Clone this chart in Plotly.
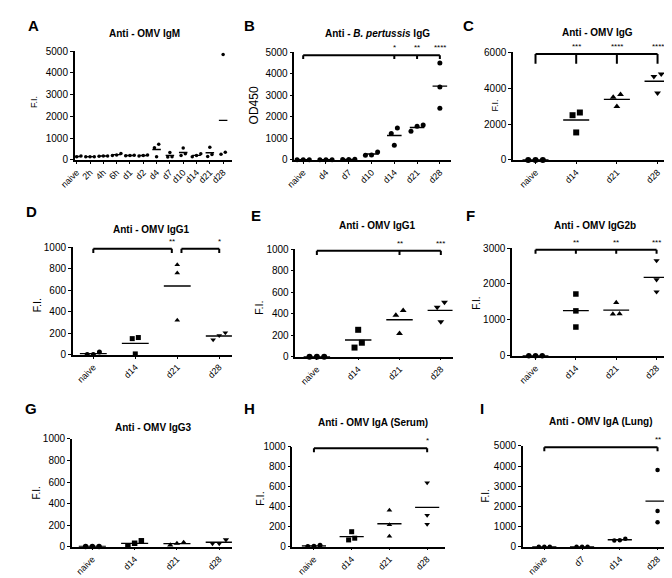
import plotly.graph_objects as go
import numpy as np

W, H = 672, 578

# ---------------- data ----------------
A_cats = ["naive", "2h", "4h", "6h", "d1", "d2", "d4", "d7", "d10", "d14", "d21", "d28"]
A_vals = [[180, 130, 150], [150, 150, 150], [180, 170, 180], [230, 300, 200],
          [210, 200, 190], [220, 200, 180], [720, 560, 150], [340, 150, 130],
          [550, 280, 200], [280, 200, 150], [580, 250, 160], [4850, 350, 260]]

B_cats = ["naive", "d4", "d7", "d10", "d14", "d21", "d28"]
B_vals = [[5, 5, 5], [5, 5, 5], [25, 20, 20], [370, 230, 220],
          [1480, 1230, 680], [1620, 1560, 1330], [4500, 3380, 2400]]

C_cats = ["naive", "d14", "d21", "d28"]
C_vals = [[0, 0, 0], [2640, 2490, 1530], [3640, 3490, 2980], [4780, 4640, 3730]]

D_cats = ["naive", "d14", "d21", "d28"]
D_vals = [[25, 3, 3], [160, 150, 8], [836, 760, 321], [205, 180, 140]]

E_cats = ["naive", "d14", "d21", "d28"]
E_vals = [[0, 0, 0], [250, 130, 85], [430, 385, 215], [505, 460, 325]]

F_cats = ["naive", "d14", "d21", "d28"]
F_vals = [[0, 0, 0], [1720, 1250, 800], [1480, 1170, 1160], [2650, 2120, 1780]]

G_cats = ["naive", "d14", "d21", "d28"]
G_vals = [[3, 3, 3], [55, 5, 32], [40, 15, 30], [65, 30, 30]]

H_cats = ["naive", "d14", "d21", "d28"]
H_vals = [[15, 3, 5], [150, 68, 85], [365, 220, 105], [640, 315, 225]]

I_cats = ["naive", "d7", "d14", "d28"]
I_vals = [[0, 0, 0], [0, 0, 0], [400, 320, 310], [3800, 1770, 1210]]

# significance brackets: (x_start, x_end, y, drop, tick positions, {x: label})
B_sig = [(0, 6, 4860, 180, [0, 4, 5, 6], {4: "*", 5: "**", 6: "****"})]
C_sig = [(0, 3, 5900, 550, [0, 1, 2, 3], {1: "***", 2: "****", 3: "****"})]
D_sig = [(0, 1.87, 985, 40, [0, 1.87], {1.87: "**"}),
         (2.1, 3, 985, 40, [2.1, 3], {3: "*"})]
E_sig = [(0, 3, 985, 40, [0, 2, 3], {2: "**", 3: "***"})]
F_sig = [(0, 3, 2950, 110, [0, 1, 2, 3], {1: "**", 2: "**", 3: "***"})]
H_sig = [(0, 3, 985, 40, [0, 3], {3: "*"})]
I_sig = [(0, 3, 4930, 200, [0, 3], {3: "**"})]

SYM4 = ["circle", "square", "triangle-up", "triangle-down"]

FONT = "Arial, Liberation Sans, sans-serif"

panels = [
    dict(letter="A", cats=A_cats, vals=A_vals, sig=[], ymax=5000, dtick=1000,
         box=(52, 213, 38, 149), first=54, last=204, ms=3.5, sym=None,
         title="<b>Anti - OMV IgM</b>", tpos=(123, 20), lpos=(10, 12),
         ylab="F.I.", ylpos=(10, 90), ylsize=9),
    dict(letter="B", cats=B_cats, vals=B_vals, sig=B_sig, ymax=5000, dtick=1000,
         box=(277, 437, 39, 149), first=286, last=426, ms=5, sym=None,
         title="<b>Anti - <i>B. pertussis</i> IgG</b>", tpos=(362, 20), lpos=(231, 12),
         ylab="OD450", ylpos=(236, 93), ylsize=12),
    dict(letter="C", cats=C_cats, vals=C_vals, sig=C_sig, ymax=6000, dtick=2000,
         box=(501, 661, 39, 149), first=524, last=649, ms=6, sym=SYM4,
         title="<b>Anti - OMV IgG</b>", tpos=(587, 19), lpos=(455, 12),
         ylab="F.I.", ylpos=(483, 94), ylsize=9),
    dict(letter="D", cats=D_cats, vals=D_vals, sig=D_sig, ymax=1000, dtick=200,
         box=(50, 213, 238, 348), first=71, last=200, ms=5, sym=SYM4,
         title="<b>Anti - OMV IgG1</b>", tpos=(131, 220), lpos=(8, 202),
         ylab="F.I.", ylpos=(13, 297), ylsize=11),
    dict(letter="E", cats=E_cats, vals=E_vals, sig=E_sig, ymax=1000, dtick=200,
         box=(278, 439, 240, 350), first=300, last=427, ms=6, sym=SYM4,
         title="<b>Anti - OMV IgG1</b>", tpos=(362, 216), lpos=(238, 206),
         ylab="F.I.", ylpos=(240, 300), ylsize=11),
    dict(letter="F", cats=F_cats, vals=F_vals, sig=F_sig, ymax=3000, dtick=1000,
         box=(500, 663, 239, 349), first=524, last=648, ms=5.5, sym=SYM4,
         title="<b>Anti - OMV IgG2b</b>", tpos=(585, 216), lpos=(457, 206),
         ylab="F.I.", ylpos=(464, 295), ylsize=10),
    dict(letter="G", cats=G_cats, vals=G_vals, sig=[], ymax=1000, dtick=200,
         box=(49, 213, 434, 544), first=70, last=200, ms=5.5, sym=SYM4,
         title="<b>Anti - OMV IgG3</b>", tpos=(133, 422), lpos=(7, 403),
         ylab="F.I.", ylpos=(13, 489), ylsize=10),
    dict(letter="H", cats=H_cats, vals=H_vals, sig=H_sig, ymax=1000, dtick=200,
         box=(275, 431, 442, 544), first=297, last=413, ms=5, sym=SYM4,
         title="<b>Anti - OMV IgA (Serum)</b>", tpos=(357, 417), lpos=(231, 403),
         ylab="F.I.", ylpos=(241, 495), ylsize=11),
    dict(letter="I", cats=I_cats, vals=I_vals, sig=I_sig, ymax=5000, dtick=1000,
         box=(511, 668, 441, 544), first=533, last=649, ms=4.5, sym=None,
         title="<b>Anti - OMV IgA (Lung)</b>", tpos=(591, 416), lpos=(469, 403),
         ylab="F.I.", ylpos=(473, 492), ylsize=10),
]


def px2x(p):
    return p / W


def px2y(p):
    return 1 - p / H


def jitter(vals, ymax, hpx, ms, spx):
    ypx = [v / ymax * hpx for v in vals]
    order = sorted(range(len(vals)), key=lambda i: ypx[i])
    clusters = []
    for i in order:
        if clusters and ypx[i] - ypx[clusters[-1][-1]] < ms * 1.1:
            clusters[-1].append(i)
        else:
            clusters.append([i])
    off = [0.0] * len(vals)
    for c in clusters:
        k = len(c)
        for j, i in enumerate(c):
            off[i] = (j - (k - 1) / 2) * ms * 1.25 / spx
    return off


fig = go.Figure()
layout = dict(width=W, height=H, margin=dict(l=0, r=0, t=0, b=0),
              paper_bgcolor="white", plot_bgcolor="white", showlegend=False,
              font=dict(family=FONT, color="black"))
shapes = []
annotations = []

for k, p in enumerate(panels):
    idx = "" if k == 0 else str(k + 1)
    xa, ya = "x" + idx, "y" + idx
    left, right, top, bottom = p["box"]
    n = len(p["cats"])
    spx = (p["last"] - p["first"]) / (n - 1)
    x0 = -(p["first"] - left) / spx
    x1 = (n - 1) + (right - p["last"]) / spx
    hpx = bottom - top

    layout["xaxis" + idx] = dict(
        domain=[px2x(left), px2x(right)], anchor=ya, range=[x0, x1],
        tickmode="array", tickvals=list(range(n)), ticktext=p["cats"],
        tickangle=-45, ticks="outside", ticklen=2, tickwidth=1.2, tickcolor="black",
        showline=True, linecolor="black", linewidth=1.5, showgrid=False, zeroline=False,
        tickfont=dict(family=FONT, size=9, color="black"), fixedrange=True)
    layout["yaxis" + idx] = dict(
        domain=[px2y(bottom), px2y(top)], anchor=xa, range=[0, p["ymax"]],
        tickmode="linear", tick0=0, dtick=p["dtick"],
        ticks="outside", ticklen=3, tickwidth=1.2, tickcolor="black",
        showline=True, linecolor="black", linewidth=1.5, showgrid=False, zeroline=False,
        tickfont=dict(family=FONT, size=10, color="black"), fixedrange=True)

    # points
    for gi, vals in enumerate(p["vals"]):
        off = jitter(vals, p["ymax"], hpx, p["ms"], spx)
        sym = p["sym"][gi] if p["sym"] else "circle"
        fig.add_trace(go.Scatter(
            x=[gi + o for o in off], y=vals, mode="markers", xaxis=xa, yaxis=ya,
            marker=dict(symbol=sym, size=p["ms"], color="black", line=dict(width=0)),
            cliponaxis=False, hoverinfo="skip"))
    # mean lines
    mx, my = [], []
    hw = 0.32
    for gi, vals in enumerate(p["vals"]):
        m = float(np.mean(vals))
        mx += [gi - hw, gi + hw, None]
        my += [m, m, None]
    fig.add_trace(go.Scatter(x=mx, y=my, mode="lines", xaxis=xa, yaxis=ya,
                             line=dict(color="black", width=1.4), hoverinfo="skip"))

    # significance brackets
    for (xs, xe, yb, drop, tks, labels) in p["sig"]:
        shapes.append(dict(type="line", xref=xa, yref=ya, x0=xs, x1=xe, y0=yb, y1=yb,
                           line=dict(color="black", width=2)))
        for t in tks:
            shapes.append(dict(type="line", xref=xa, yref=ya, x0=t, x1=t, y0=yb, y1=yb - drop,
                               line=dict(color="black", width=2)))
        for lx, lt in labels.items():
            annotations.append(dict(x=lx, y=yb, xref=xa, yref=ya, text=lt, showarrow=False,
                                    yanchor="bottom", yshift=1,
                                    font=dict(family=FONT, size=8, color="black")))

    # title, panel letter, y label
    annotations.append(dict(x=px2x(p["tpos"][0]), y=px2y(p["tpos"][1]), xref="paper", yref="paper",
                            text=p["title"], showarrow=False, xanchor="center", yanchor="middle",
                            font=dict(family=FONT, size=10, color="black")))
    annotations.append(dict(x=px2x(p["lpos"][0]), y=px2y(p["lpos"][1]), xref="paper", yref="paper",
                            text="<b>" + p["letter"] + "</b>", showarrow=False,
                            xanchor="center", yanchor="middle",
                            font=dict(family=FONT, size=15, color="black")))
    annotations.append(dict(x=px2x(p["ylpos"][0]), y=px2y(p["ylpos"][1]), xref="paper", yref="paper",
                            text=p["ylab"], showarrow=False, textangle=-90,
                            xanchor="center", yanchor="middle",
                            font=dict(family=FONT, size=p["ylsize"], color="black")))

layout["shapes"] = shapes
layout["annotations"] = annotations
fig.update_layout(**layout)
fig.write_html("out.html")
